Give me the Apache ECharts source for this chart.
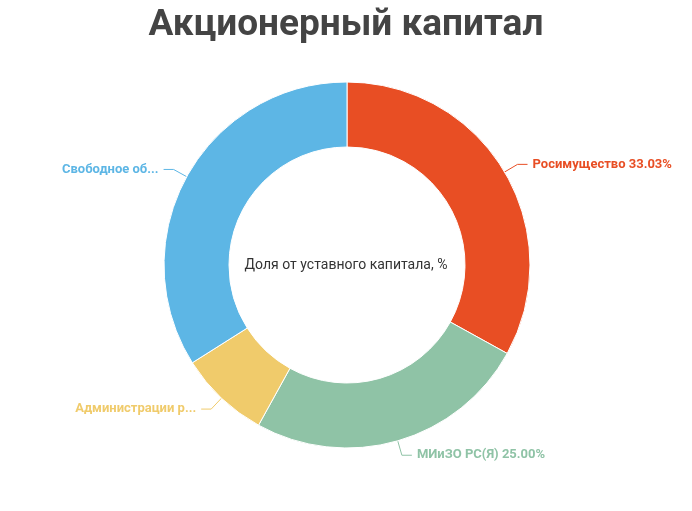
<!DOCTYPE html>
<html>
<head>
<meta charset="utf-8">
<script src="https://cdn.jsdelivr.net/npm/echarts@6/dist/echarts.min.js"></script>
<style>html,body{margin:0;padding:0;background:#fff}#chart{width:692px;height:511px}</style>
</head>
<body>
<div id="chart"></div>
<script>
var names = ['Росимущество', 'МИиЗО РС(Я)', 'Администрации районов (улусов) Республики Саха', 'Свободное обращение'];
var values = [33.03, 25.00, 8.00, 33.97];
var colors = ['#e84e24', '#8fc3a6', '#f0cb6b', '#5db6e5'];

var myChart = echarts.init(document.getElementById('chart'));
var option = {
  title: {
    text: 'Акционерный капитал',
    left: 'center',
    top: 2,
    textStyle: { fontFamily: 'Roboto', fontSize: 37, fontWeight: 'bold', color: '#444' }
  },
  graphic: [{
    type: 'text',
    left: 'center',
    top: 258,
    style: { text: 'Доля от уставного капитала, %', font: '14px Roboto', fill: '#333' }
  }],
  series: [{
    type: 'pie',
    center: [347, 265],
    radius: [118, 183],
    startAngle: 90,
    clockwise: true,
    itemStyle: { borderColor: '#fff', borderWidth: 1 },
    label: {
      fontFamily: 'Roboto',
      fontSize: 13,
      fontWeight: 'bold',
      formatter: function (p) {
        return p.dataIndex === 2 ? p.name : p.name + ' ' + p.value.toFixed(2) + '%';
      }
    },
    labelLine: { length: 15, length2: 10 },
    data: names.map(function (n, i) {
      return {
        name: n, value: values[i],
        itemStyle: { color: colors[i] },
        label: { color: colors[i] },
        labelLine: { lineStyle: { color: colors[i] } }
      };
    })
  }]
};
myChart.setOption(option);
</script>
</body>
</html>
